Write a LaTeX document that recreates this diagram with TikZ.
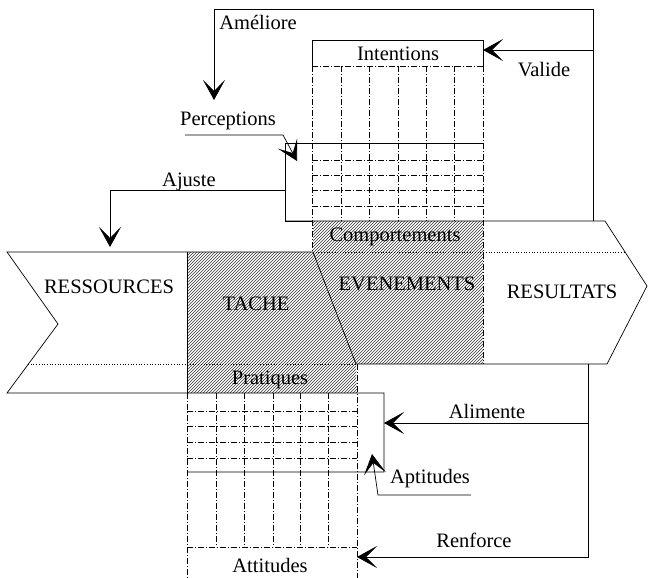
\documentclass[tikz,border=0pt]{standalone}
\usepackage{fontspec}
\setmainfont{Liberation Serif}
\usetikzlibrary{patterns,arrows.meta}

\begin{document}
\begin{tikzpicture}[x=1pt, y=-1pt,
		lbl/.style={inner sep=0pt, anchor=base, font=\fontsize{20.5}{24}\selectfont},
		solidline/.style={line width=0.7pt},
		gridline/.style={line width=0.6pt, dash pattern=on 6pt off 2pt on 1pt off 2pt},
		sepline/.style={line width=0.7pt, dotted},
		hatch/.style={pattern=north east lines, pattern color=black!80},
		arr/.style={line width=0.7pt, -{Stealth[length=20pt, width=22pt, inset=11pt]}}]

			\useasboundingbox (0,0) rectangle (648,578);

			% Hatched blocks
			\fill[hatch] (187,252) -- (313,252) -- (356,364) -- (357,393) -- (187,393) -- cycle;
			\fill[hatch] (313,221) -- (483,221) -- (483,364) -- (356,364) -- (313,252) -- cycle;

			% Outlines of the two big arrows
			\draw[solidline] (313,252) -- (7,252) -- (58,324) -- (7,393) -- (384,393) -- (384,472) -- (187,472);
			\draw[solidline] (187,252) -- (187,393);
			\draw[solidline] (313,252) -- (356,364);
			\draw[solidline] (356,364) -- (607,364) -- (647,286) -- (605,221) -- (285,221);
			\draw[sepline] (313,252) -- (625,252);
			\draw[sepline] (28,364) -- (356,364);

			% Upper column
			\draw[solidline] (312,66) -- (312,40) -- (483,40) -- (483,66);
			\draw[solidline] (312,221) -- (285,221) -- (285,143) -- (483,143);
			\draw[gridline] (312,66) -- (483,66);
			\foreach \x in {341,369,398,426,454} \draw[gridline] (\x,66) -- (\x,221);
			\draw[gridline] (312,66) -- (312,252);
			\draw[gridline] (483,66) -- (483,364);
			\foreach \y in {160,175,190,206} \draw[gridline] (312,\y) -- (483,\y);

			% Lower column
			\foreach \x in {216,244,273,300,328} \draw[gridline] (\x,393) -- (\x,547);
			\draw[gridline] (187,393) -- (187,578);
			\draw[gridline] (357,364) -- (357,578);
			\foreach \y in {411,426,442,458} \draw[gridline] (187,\y) -- (357,\y);
			\draw[gridline] (187,547) -- (357,547);

			% Define nodes
			\node[lbl] (amel) at (258,30) {Améliore};
			\node[lbl] (intent) at (398,61) {Intentions};
			\node[lbl] (valide) at (544,77) {Valide};
			\node[lbl] (percep) at (228,125) {Perceptions};
			\node[lbl] (ajuste) at (189,186) {Ajuste};
			\node[lbl] (comport) at (395,241) {Comportements};
			\node[lbl] (ress) at (109,293) {RESSOURCES};
			\node[lbl] (event) at (407,290) {EVENEMENTS};
			\node[lbl] (tache) at (256,310) {TACHE};
			\node[lbl] (result) at (562,298) {RESULTATS};
			\node[lbl] (prat) at (270,384) {Pratiques};
			\node[lbl] (alim) at (487,418) {Alimente};
			\node[lbl] (aptit) at (430,483) {Aptitudes};
			\node[lbl] (renf) at (474,547) {Renforce};
			\node[lbl] (attit) at (270,572) {Attitudes};

			% Connector end points
			\coordinate (resTop) at (593,221);
			\coordinate (topR) at (593,9);
			\coordinate (topL) at (214,9);
			\coordinate (amelEnd) at (214,100);
			\coordinate (valStart) at (593,50);
			\coordinate (intentR) at (483,50);
			\coordinate (percL) at (185,135);
			\coordinate (percK) at (283,135);
			\coordinate (percEnd) at (297,161);
			\coordinate (ajStart) at (285,190);
			\coordinate (ajK) at (110,190);
			\coordinate (ajEnd) at (110,247);
			\coordinate (resBot) at (588,364);
			\coordinate (botR) at (588,557);
			\coordinate (alimStart) at (588,423);
			\coordinate (aptR) at (384,423);
			\coordinate (attR) at (357,557);
			\coordinate (aptL) at (471,495);
			\coordinate (aptK) at (378,495);
			\coordinate (aptEnd) at (372,454);

			% Draw connectors
			\draw[arr] (resTop) -- (topR) -- (topL) -- (amelEnd);
			\draw[arr] (valStart) -- (intentR);
			\draw[arr] (percL) -- (percK) -- (percEnd);
			\draw[arr] (ajStart) -- (ajK) -- (ajEnd);
			\draw[arr] (resBot) -- (botR) -- (attR);
			\draw[arr] (alimStart) -- (aptR);
			\draw[arr] (aptL) -- (aptK) -- (aptEnd);

		\end{tikzpicture}
\end{document}
